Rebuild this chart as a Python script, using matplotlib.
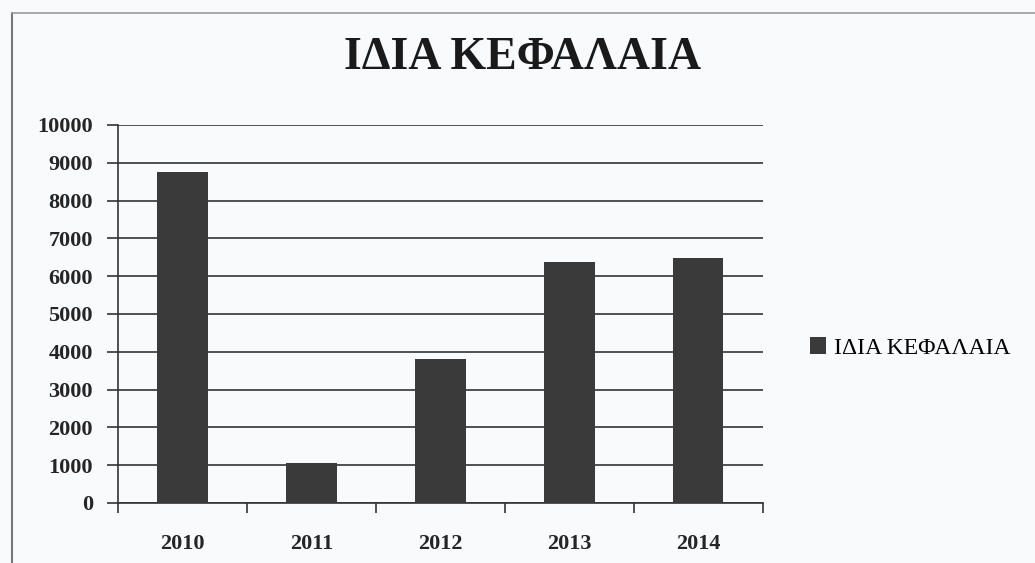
import matplotlib.pyplot as plt
from matplotlib.lines import Line2D

years = ['2010', '2011', '2012', '2013', '2014']
equity = [8760, 1070, 3800, 6380, 6470]
yticks = list(range(0, 10001, 1000))
title = 'ΙΔΙΑ ΚΕΦΑΛΑΙΑ'

plt.rcParams['font.family'] = ['Liberation Serif', 'DejaVu Serif']

fig = plt.figure(figsize=(10.35, 5.63), dpi=100, facecolor='#f9fafc')
ax = fig.add_axes([0.114, 0.1066, 0.623, 0.6714])
ax.set_facecolor('none')

x = range(len(years))
ax.bar(x, equity, width=0.39, color='#3a3a3a', label=title, zorder=3)

ax.set_xlim(-0.5, len(years) - 0.5)
ax.set_ylim(0, 10000)
ax.set_yticks(yticks)
ax.set_yticklabels([str(v) for v in yticks], fontsize=16, fontweight='bold', color='#252525')
ax.yaxis.grid(True, color='#333333', linewidth=1.2, zorder=0)

# category ticks sit on the boundaries, labels in between
ax.set_xticks([i - 0.5 for i in range(len(years) + 1)])
ax.set_xticklabels([])
ax.set_xticks(list(x), minor=True)
ax.set_xticklabels(years, minor=True, fontsize=16, fontweight='bold', color='#252525')
ax.tick_params(axis='x', which='major', direction='out', length=7, width=1.2, color='#333333')
ax.tick_params(axis='x', which='minor', length=0, pad=22)
ax.tick_params(axis='y', direction='out', length=8, width=1.2, color='#333333', pad=10)

for side in ('top', 'right'):
    ax.spines[side].set_visible(False)
for side in ('left', 'bottom'):
    ax.spines[side].set_color('#333333')
    ax.spines[side].set_linewidth(1.2)

fig.text(0.505, 0.897, title, ha='center', va='center', fontsize=33,
         fontweight='bold', color='#1a1a1a')

fig.legend(loc='center left', bbox_to_anchor=(0.762, 0.382), frameon=False,
           fontsize=17, handlelength=0.7, handleheight=0.7, handletextpad=0.3)

# page frame on the left and top
fig.add_artist(Line2D([0.012, 0.012], [0, 0.977], color='#777777', linewidth=1.5))
fig.add_artist(Line2D([0.012, 1.0], [0.977, 0.977], color='#9a9a9a', linewidth=1.2))

fig.savefig('out.png', dpi=100, facecolor=fig.get_facecolor())
